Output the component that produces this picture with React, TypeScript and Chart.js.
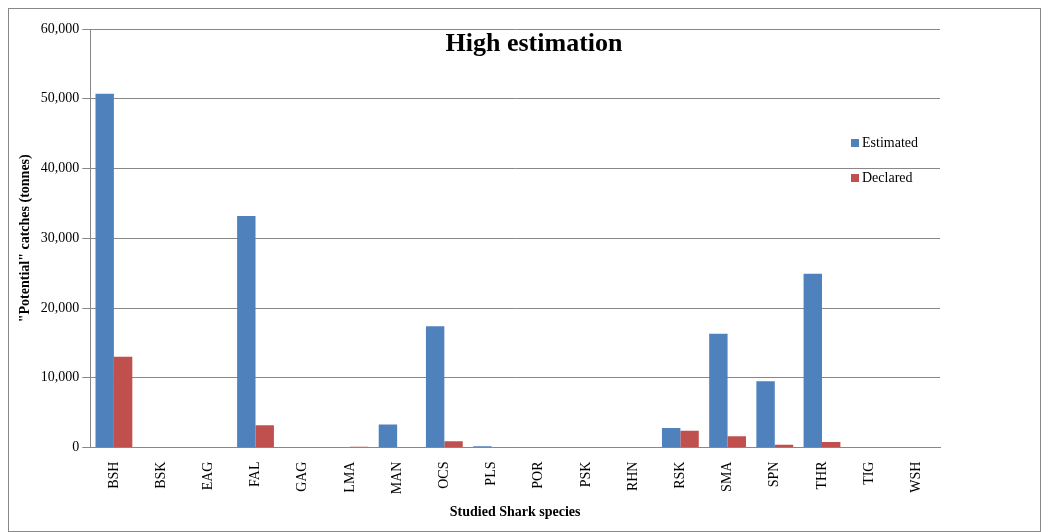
import { useEffect, useRef } from "react";
import Chart from "chart.js/auto";

const species = ["BSH", "BSK", "EAG", "FAL", "GAG", "LMA", "MAN", "OCS", "PLS", "POR", "PSK", "RHN", "RSK", "SMA", "SPN", "THR", "TIG", "WSH"];
const estimated = [50700, 0, 0, 33200, 0, 0, 3300, 17400, 200, 0, 0, 0, 2800, 16300, 9500, 24900, 0, 0];
const declared = [13000, 0, 0, 3200, 0, 100, 0, 900, 0, 0, 0, 0, 2400, 1600, 400, 800, 0, 0];
const seriesNames = ["Estimated", "Declared"];
const seriesColors = ["#4f81bd", "#c0504d"];

const font = "'Liberation Serif', 'Times New Roman', serif";

const overlayPlugin = {
  id: "overlay",
  afterDraw(chart: any) {
    const { ctx, chartArea } = chart;
    ctx.save();
    ctx.font = `bold 26px ${font}`;
    ctx.fillStyle = "#000";
    ctx.textAlign = "center";
    ctx.textBaseline = "top";
    ctx.fillText("High estimation", 525, chartArea.top + 2);
    ctx.font = `14px ${font}`;
    ctx.textAlign = "left";
    ctx.textBaseline = "middle";
    seriesNames.forEach((name, i) => {
      const y = chartArea.top + 114 + i * 35;
      ctx.fillStyle = seriesColors[i];
      ctx.fillRect(chartArea.right - 89, y - 4, 8, 8);
      ctx.fillStyle = "#000";
      ctx.fillText(name, chartArea.right - 78, y);
    });
    ctx.restore();
  },
};

export default function App() {
  const ref = useRef<HTMLCanvasElement>(null);

  useEffect(() => {
    if (!ref.current) return;
    const chart = new Chart(ref.current, {
      type: "bar",
      data: {
        labels: species,
        datasets: seriesNames.map((name, i) => ({
          label: name,
          data: i === 0 ? estimated : declared,
          backgroundColor: seriesColors[i],
          categoryPercentage: 0.78,
          barPercentage: 1,
        })),
      },
      options: {
        animation: false,
        responsive: true,
        maintainAspectRatio: false,
        layout: { padding: { top: 20, right: 100, left: 4, bottom: 6 } },
        plugins: {
          legend: { display: false },
          tooltip: { enabled: false },
        },
        scales: {
          x: {
            grid: { display: false },
            border: { color: "#888" },
            ticks: { color: "#000", font: { family: font, size: 14 }, maxRotation: 90, minRotation: 90, padding: 6 },
            title: { display: true, text: "Studied Shark species", color: "#000", font: { family: font, size: 14, weight: "bold" } },
          },
          y: {
            min: 0,
            max: 60000,
            ticks: { stepSize: 10000, color: "#000", font: { family: font, size: 14 }, callback: (v: any) => Number(v).toLocaleString("en-US") },
            grid: { color: "#888" },
            border: { color: "#888" },
            title: { display: true, text: '"Potential" catches (tonnes)', color: "#000", font: { family: font, size: 14, weight: "bold" } },
          },
        },
      },
      plugins: [overlayPlugin],
    });
    return () => chart.destroy();
  }, []);

  return (
    <div style={{ width: 1031, height: 522, border: "1px solid #888" }}>
      <canvas ref={ref} />
    </div>
  );
}
